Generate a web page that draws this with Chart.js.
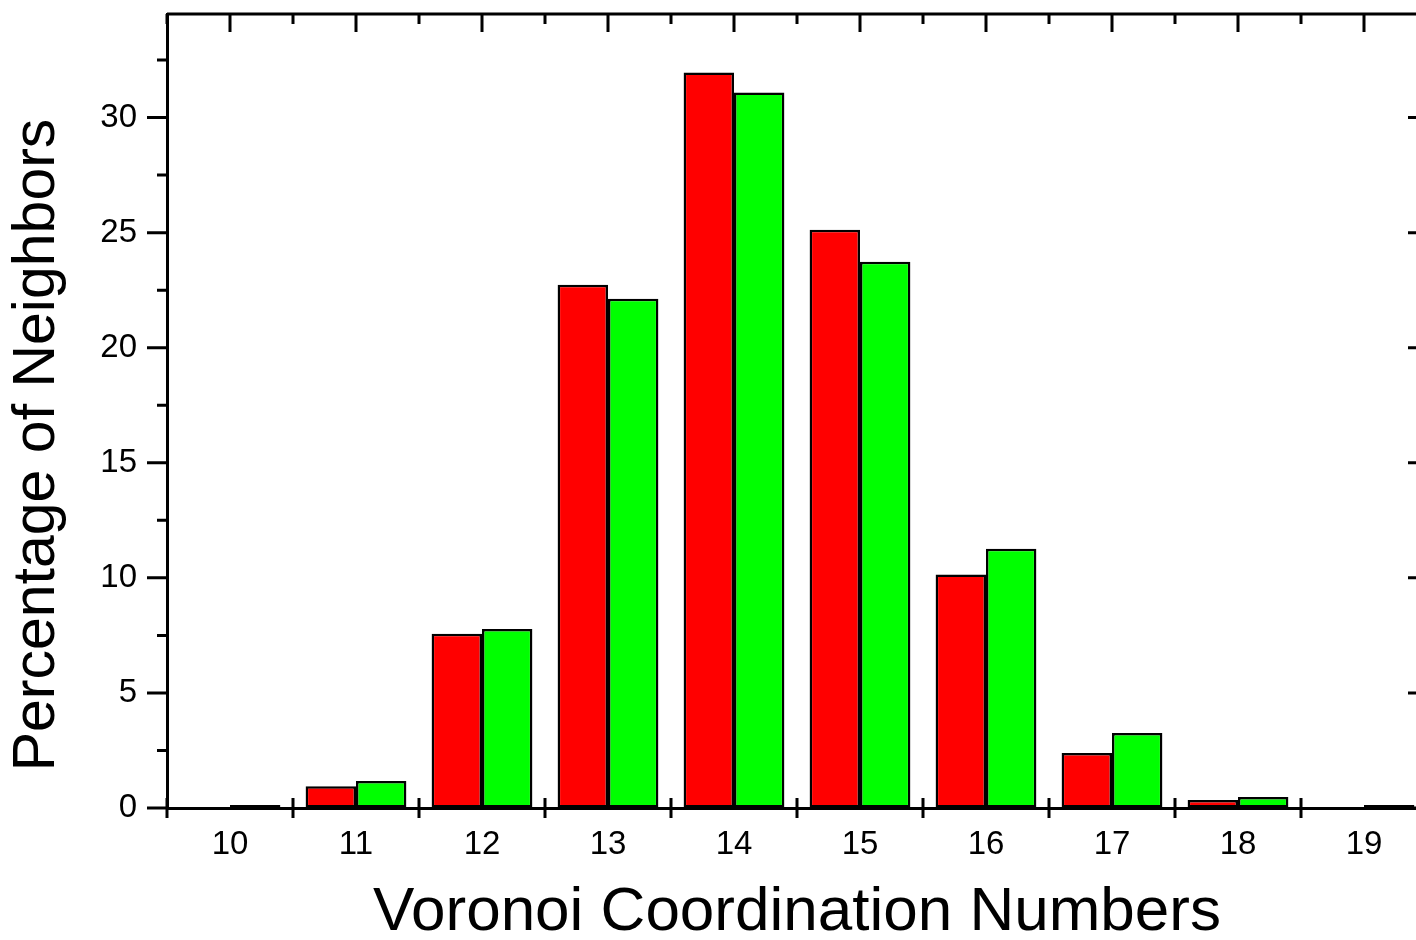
<!DOCTYPE html>
<html>
<head>
<meta charset="utf-8">
<title>Voronoi Coordination Numbers</title>
<script src="https://cdn.jsdelivr.net/npm/chart.js@4.4.1/dist/chart.umd.min.js"></script>
<style>
    html, body { margin: 0; padding: 0; background: #fff; overflow: hidden; }
    #wrap { width: 1440px; height: 940px; }
</style>
</head>
<body>
<div id="wrap"><canvas id="voronoiChart" width="1440" height="940"></canvas></div>
<script>
const categories = ['10', '11', '12', '13', '14', '15', '16', '17', '18', '19'];
const redValues = [0, 0.95, 7.57, 22.74, 31.96, 25.13, 10.15, 2.39, 0.35, 0];
const greenValues = [0.13, 1.17, 7.78, 22.13, 31.09, 23.74, 11.26, 3.26, 0.48, 0.13];
const yMajorTicks = [0, 5, 10, 15, 20, 25, 30];
const yMinorTicks = [2.5, 7.5, 12.5, 17.5, 22.5, 27.5, 32.5];
const yMax = 34.5;
const xTitle = 'Voronoi Coordination Numbers';
const yTitle = 'Percentage of Neighbors';

const FONT = "'Liberation Sans', Arial, sans-serif";

// frame, tick marks and the y title (drawn by hand so they sit like the original plot)
const axisDecor = {
    id: 'axisDecor',
    afterDraw(chart) {
        const { ctx, chartArea: a, scales: { x, y } } = chart;
        const step = x.getPixelForValue(1) - x.getPixelForValue(0);
        const first = x.getPixelForValue(0) - step / 2;

        ctx.save();
        ctx.strokeStyle = '#000';
        ctx.lineWidth = 3;

        ctx.beginPath();
        ctx.moveTo(a.left, a.top);
        ctx.lineTo(a.right, a.top);
        ctx.lineTo(a.right, a.bottom);
        ctx.stroke();

        ctx.beginPath();
        yMajorTicks.forEach(v => {
            const py = y.getPixelForValue(v);
            ctx.moveTo(a.left - 20, py); ctx.lineTo(a.left, py);
            ctx.moveTo(a.right - 19, py); ctx.lineTo(a.right, py);
        });
        yMinorTicks.forEach(v => {
            const py = y.getPixelForValue(v);
            ctx.moveTo(a.left - 10, py); ctx.lineTo(a.left, py);
            ctx.moveTo(a.right - 10, py); ctx.lineTo(a.right, py);
        });
        categories.forEach((c, i) => {
            const px = x.getPixelForValue(i);
            ctx.moveTo(px, a.top); ctx.lineTo(px, a.top + 18);
        });
        for (let i = 0; i <= categories.length; i++) {
            const bx = first + i * step;
            ctx.moveTo(bx, a.top); ctx.lineTo(bx, a.top + 10);
            ctx.moveTo(bx, a.bottom - 10); ctx.lineTo(bx, a.bottom + 10);
        }
        ctx.stroke();

        ctx.fillStyle = '#000';
        ctx.font = '59px ' + FONT;
        ctx.textAlign = 'center';
        ctx.textBaseline = 'middle';
        ctx.translate(38, (a.top + a.bottom) / 2 + 34);
        ctx.rotate(-Math.PI / 2);
        ctx.fillText(yTitle, 0, 0);
        ctx.restore();
    }
};

const ctx = document.getElementById('voronoiChart').getContext('2d');
new Chart(ctx, {
    type: 'bar',
    data: {
        labels: categories,
        datasets: [
            { data: redValues, backgroundColor: '#ff0000', borderColor: '#000', borderWidth: 2.5, borderSkipped: false },
            { data: greenValues, backgroundColor: '#00ff00', borderColor: '#000', borderWidth: 2.5, borderSkipped: false }
        ]
    },
    options: {
        responsive: false,
        animation: false,
        devicePixelRatio: 1,
        layout: { padding: { top: 14, right: 13, left: 0, bottom: 0 } },
        datasets: { bar: { categoryPercentage: 0.8, barPercentage: 1.0 } },
        plugins: { legend: { display: false }, tooltip: { enabled: false } },
        scales: {
            x: {
                afterFit: s => { s.height = 132; s.paddingLeft = 0; s.paddingRight = 0; },
                grid: { drawOnChartArea: false, drawTicks: false },
                border: { display: true, color: '#000', width: 3 },
                ticks: { color: '#000', font: { family: FONT, size: 33 }, padding: 17, maxRotation: 0, autoSkip: false },
                title: { display: true, text: xTitle, color: '#000', font: { family: FONT, size: 62, lineHeight: 1 }, padding: { top: 0, bottom: -4 } }
            },
            y: {
                min: 0,
                max: yMax,
                afterBuildTicks: s => { s.ticks = yMajorTicks.map(v => ({ value: v })); },
                afterFit: s => { s.width = 167; s.paddingTop = 0; s.paddingBottom = 0; },
                grid: { drawOnChartArea: false, drawTicks: false },
                border: { display: true, color: '#000', width: 3 },
                ticks: { color: '#000', font: { family: FONT, size: 33 }, padding: 30 }
            }
        }
    },
    plugins: [axisDecor]
});
</script>
</body>
</html>
